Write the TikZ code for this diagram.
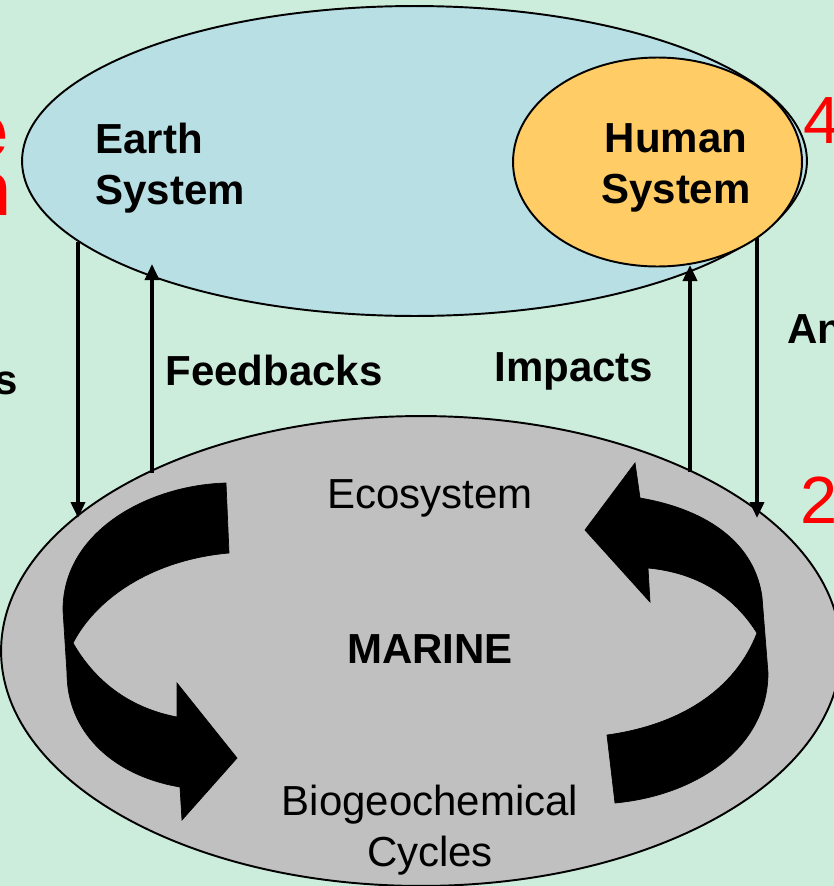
\documentclass[tikz,border=0pt]{standalone}
\usepackage{fontspec}
\setmainfont{Liberation Sans}
\usetikzlibrary{shapes.geometric,arrows.meta}

\definecolor{bggreen}{RGB}{204,236,220}
\definecolor{earthblue}{RGB}{184,223,228}
\definecolor{humanorange}{RGB}{255,204,102}
\definecolor{marinegray}{RGB}{192,192,192}
\definecolor{slidered}{RGB}{255,0,0}

\tikzset{
  sphere/.style={shape=ellipse,draw=black,line width=1.1pt,inner sep=0pt},
  boldlbl/.style={font=\bfseries\fontsize{23.9}{29}\selectfont,inner sep=0pt},
  plainlbl/.style={font=\fontsize{23.9}{29}\selectfont,inner sep=0pt},
  redbig/.style={font=\bfseries\fontsize{43.8}{50}\selectfont,text=slidered,inner sep=0pt},
  reddigit/.style={font=\fontsize{38}{44}\selectfont,text=slidered,inner sep=0pt},
  link/.style={line width=2.1pt,-{Triangle[width=0.28cm,length=0.32cm]}},
  cyclearrow/.style={fill=black,draw=black,line width=0.4pt}
}

\begin{document}
\begin{tikzpicture}[x=0.02cm,y=-0.02cm]
  \useasboundingbox (0,0) rectangle (834,886);
  \clip (0,0) rectangle (834,886);
  \fill[bggreen] (0,0) rectangle (834,886);

  % the three systems
  \node[sphere,fill=earthblue,minimum width=15.7cm,minimum height=6.2cm] (earth) at (414.5,161) {};
  \node[sphere,fill=humanorange,minimum width=5.78cm,minimum height=4.18cm] (human) at (657.5,162) {};
  \node[sphere,fill=marinegray,minimum width=16.8cm,minimum height=9.4cm] (marine) at (421,651) {};

  % cycle arrows inside the marine system
  \draw[cyclearrow] (226,483) -- (229,553)
    .. controls (150,560) and (95,600) .. (73,643)
    .. controls (100,690) and (140,710) .. (177,717)
    -- (177,683) -- (237,758) -- (182,820) -- (180,787)
    .. controls (110,775) and (67,730) .. (67,673)
    -- (63,610)
    .. controls (63,530) and (150,485) .. (226,483) -- cycle;
  \draw[cyclearrow] (585,530) -- (635,463) -- (640,498)
    .. controls (710,510) and (755,545) .. (762,597)
    -- (768,673)
    .. controls (768,745) and (700,795) .. (615,803)
    -- (607,735)
    .. controls (680,725) and (735,690) .. (757,633)
    .. controls (730,590) and (690,572) .. (648,568)
    -- (650,602) -- cycle;

  % ends of the links
  \coordinate (earthout) at (78,242);
  \coordinate (marinein) at (78,518);
  \coordinate (marineback) at (152,473);
  \coordinate (earthin) at (152,264);
  \coordinate (marineimp) at (690,472);
  \coordinate (humanin) at (690,265);
  \coordinate (humanout) at (757,238);
  \coordinate (marinein2) at (757,518);

  \draw[link] (earthout) -- (marinein);
  \draw[link] (marineback) -- (earthin);
  \draw[link] (marineimp) -- (humanin);
  \draw[link] (humanout) -- (marinein2);

  % labels
  \node[boldlbl,align=left,anchor=base west] (earthlbl) at (95,204) {Earth\\System};
  \node[boldlbl,align=center,anchor=base] (humanlbl) at (676,203) {Human\\System};
  \node[boldlbl,anchor=base west] (fblbl) at (165,385) {Feedbacks};
  \node[boldlbl,anchor=base west] (implbl) at (494,381) {Impacts};
  \node[boldlbl,anchor=base west] (anlbl) at (787,343) {An};
  \node[boldlbl,anchor=base east] (slbl) at (18,394) {s};
  \node[plainlbl,anchor=base] (ecolbl) at (430,508) {Ecosystem};
  \node[boldlbl,anchor=base] (marinelbl) at (430,663) {MARINE};
  \node[plainlbl,align=center,anchor=base] (biolbl) at (430,866) {Biogeochemical\\Cycles};

  % red side marks
  \node[redbig,anchor=base east] (redE) at (9,157) {e};
  \node[redbig,anchor=base east] (redN) at (12,215) {n};
  \node[reddigit,anchor=base west] (four) at (803,143) {4};
  \node[reddigit,anchor=base west] (two) at (800,523) {2};
\end{tikzpicture}
\end{document}
